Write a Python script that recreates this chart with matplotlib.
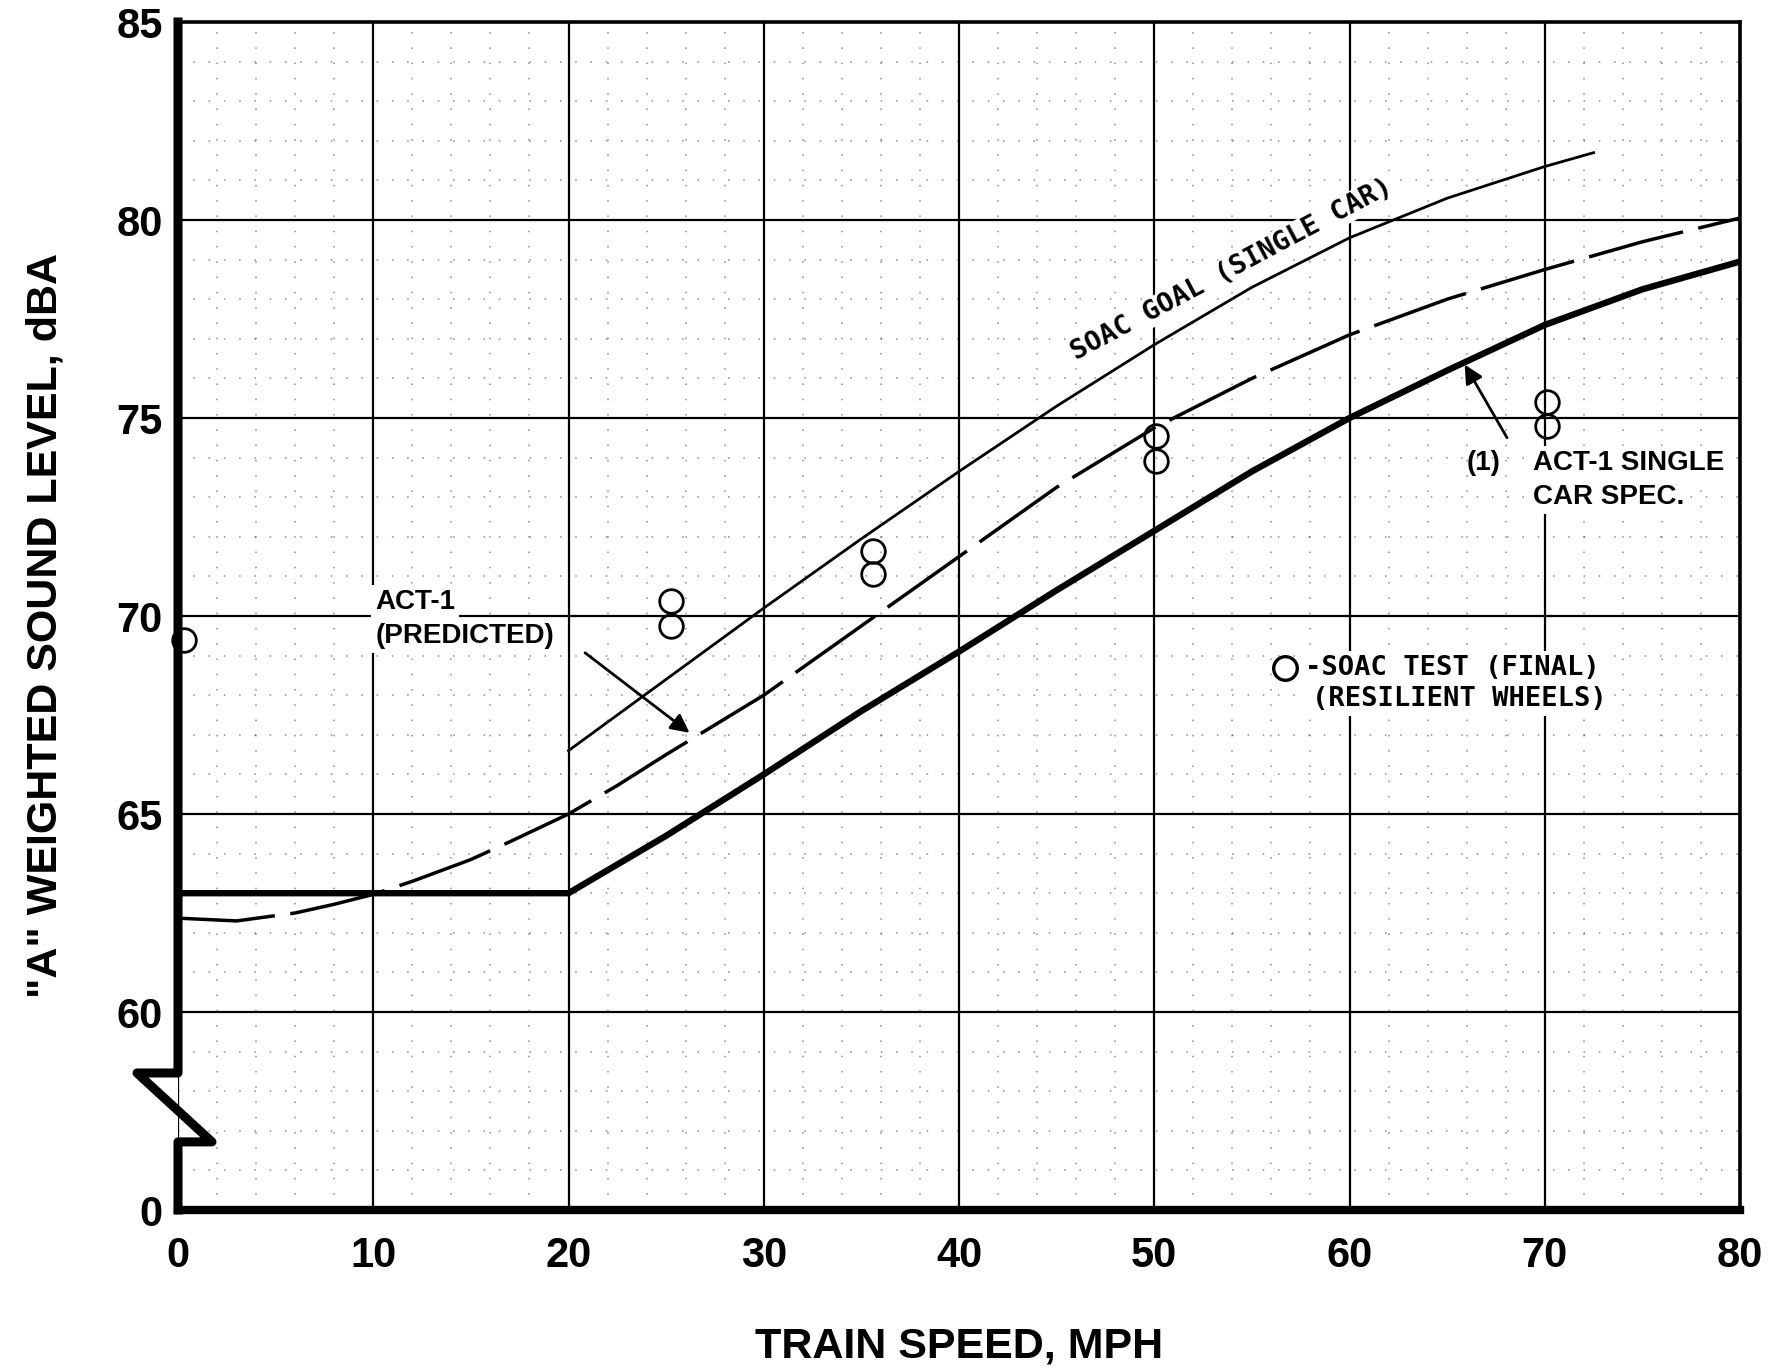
import matplotlib.pyplot as plt
from matplotlib.ticker import FixedLocator, MultipleLocator

# ACT-1 single car spec (heavy solid line)
spec_speed = [0, 5, 10, 15, 20, 25, 30, 35, 40, 45, 50, 55, 60, 65, 70, 75, 80]
spec_level = [63.0, 63.0, 63.0, 63.0, 63.0, 64.45, 66.0, 67.6, 69.1, 70.65,
              72.15, 73.65, 75.0, 76.2, 77.35, 78.25, 78.95]

# SOAC goal (single car), thin solid line
goal_speed = [20, 25, 30, 35, 40, 45, 50, 55, 60, 65, 70, 72.5]
goal_level = [66.6, 68.4, 70.2, 71.95, 73.65, 75.3, 76.85, 78.3, 79.55, 80.55, 81.35, 81.7]

# ACT-1 predicted, dashed line
pred_speed = [0, 3, 6, 8, 10, 12, 15, 17, 20, 22.5, 25, 30, 35, 40, 45, 50,
              55, 60, 65, 70, 75, 80]
pred_level = [62.37, 62.3, 62.5, 62.72, 62.97, 63.3, 63.85, 64.3, 65.0, 65.72,
              66.5, 68.0, 69.75, 71.5, 73.25, 74.75, 76.0, 77.1, 78.0, 78.75, 79.45, 80.05]

# SOAC test (final), resilient wheels
test_speed = [0.3, 25.25, 25.25, 35.6, 35.6, 50.1, 50.1, 70.1, 70.1]
test_level = [69.4, 70.38, 69.75, 71.63, 71.06, 74.55, 73.92, 75.4, 74.8]

# axis is broken below 60: the "0" label sits where 55 would be
y_ticks = [55, 60, 65, 70, 75, 80, 85]
y_tick_labels = ["0", "60", "65", "70", "75", "80", "85"]
x_ticks = [0, 10, 20, 30, 40, 50, 60, 70, 80]

W, H = 1776, 1369
fig = plt.figure(figsize=(W / 100, H / 100), dpi=100)
ax = fig.add_axes([178 / W, 1 - 1210 / H, (1740 - 178) / W, (1210 - 22) / H])
ax.set_xlim(0, 80)
ax.set_ylim(55, 85)

ax.xaxis.set_major_locator(FixedLocator(x_ticks))
ax.xaxis.set_minor_locator(MultipleLocator(2))
ax.yaxis.set_major_locator(FixedLocator(y_ticks))
ax.yaxis.set_minor_locator(MultipleLocator(1))
ax.set_yticklabels(y_tick_labels)
ax.set_axisbelow(True)
ax.grid(which="major", color="black", lw=1.6)
ax.grid(which="minor", color="black", lw=1.1, linestyle=(0, (1, 9)), alpha=0.45)

ax.tick_params(which="both", length=0)
ax.tick_params(axis="y", pad=11)
ax.tick_params(axis="x", pad=19)
for lab in ax.get_xticklabels() + ax.get_yticklabels():
    lab.set_fontfamily("Liberation Sans")
    lab.set_fontweight("bold")
    lab.set_fontsize(30)

ax.spines["left"].set_visible(False)
ax.spines["bottom"].set_linewidth(6)
ax.spines["top"].set_linewidth(2.6)
ax.spines["right"].set_linewidth(2.6)

# left axis with the break symbol
ax.plot([0, 0, -2.1, 1.74, 0, 0], [85, 58.46, 58.46, 56.72, 56.72, 55],
        color="black", lw=6.5, clip_on=False, solid_joinstyle="round",
        solid_capstyle="projecting", zorder=5)

ax.plot(spec_speed, spec_level, color="black", lw=4.6, zorder=3)
ax.plot(goal_speed, goal_level, color="black", lw=2.0, zorder=3)
ax.plot(pred_speed, pred_level, color="black", lw=2.5, dashes=(28, 4.5), zorder=3)
ax.plot(test_speed, test_level, "o", ms=17, mfc="none", mec="black", mew=2.0,
        clip_on=False, zorder=4)

white = dict(facecolor="white", edgecolor="none", pad=3)
bold = dict(fontfamily="Liberation Sans", fontweight="bold", fontsize=20, zorder=1)
mono = dict(fontfamily="DejaVu Sans Mono", fontweight="bold", fontsize=19.5, zorder=1)

ax.text(10.1, 70.35, "ACT-1", ha="left", va="center", bbox=white, **bold)
ax.text(10.1, 69.5, "(PREDICTED)", ha="left", va="center", bbox=white, **bold)
ax.annotate("", xy=(26.2, 67.05), xytext=(20.85, 69.07),
            arrowprops=dict(arrowstyle="-|>", color="black", lw=2,
                            mutation_scale=28, shrinkA=0, shrinkB=0), zorder=4)

ax.text(54.0, 78.75, "SOAC GOAL (SINGLE CAR)", rotation=28, rotation_mode="anchor",
        ha="center", va="center", bbox=dict(facecolor="white", edgecolor="none", pad=1),
        **mono)

ax.text(66.0, 73.86, "(1)", ha="left", va="center", **bold)
ax.text(69.4, 73.86, "ACT-1 SINGLE", ha="left", va="center", bbox=white, **bold)
ax.text(69.4, 73.0, "CAR SPEC.", ha="left", va="center", bbox=white, **bold)
ax.annotate("", xy=(65.9, 76.35), xytext=(68.07, 74.5),
            arrowprops=dict(arrowstyle="-|>", color="black", lw=2,
                            mutation_scale=28, shrinkA=0, shrinkB=0), zorder=4)

ax.plot([56.7], [68.69], "o", ms=17, mfc="none", mec="black", mew=2.4, zorder=4)
ax.text(57.7, 68.69, "-SOAC TEST (FINAL)", ha="left", va="center", bbox=white, **mono)
ax.text(58.1, 67.9, "(RESILIENT WHEELS)", ha="left", va="center", bbox=white, **mono)

ax.set_xlabel("TRAIN SPEED, MPH", fontfamily="Liberation Sans", fontweight="bold",
              fontsize=31, labelpad=36)
ax.set_ylabel('"A" WEIGHTED SOUND LEVEL, dBA', fontfamily="Liberation Sans",
              fontweight="bold", fontsize=31)
ax.yaxis.label.set_va("center")
ax.yaxis.set_label_coords(-0.085, 0.492)

fig.savefig("out.png", dpi=100)
plt.close(fig)
